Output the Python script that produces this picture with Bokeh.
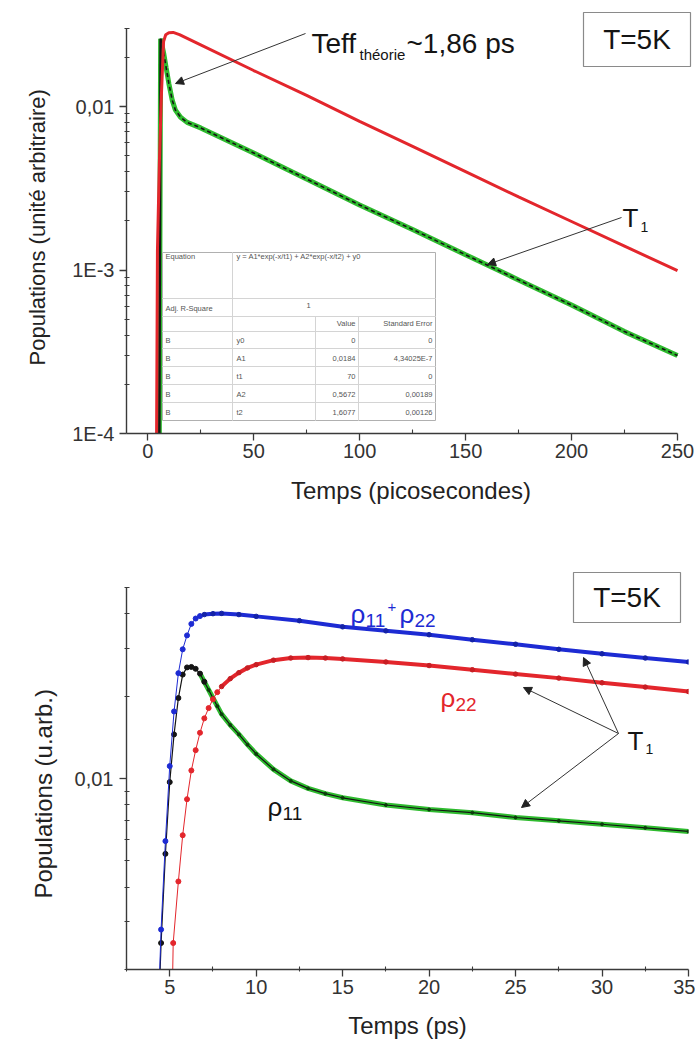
import math
from bokeh.plotting import figure
from bokeh.layouts import column
from bokeh.models import (Range1d, FixedTicker, CustomJSTickFormatter, Label,
                          Arrow, NormalHead, BoxAnnotation, Title)
from bokeh.embed import file_html
from bokeh.resources import INLINE

# ---------------- data ----------------
# top panel : populations vs time (ps), log scale
top_red_t = [4.2, 4.6, 5.5, 6.5, 7.5, 8.5, 10, 12, 15, 25, 50, 75, 100, 125, 150, 175, 200, 225, 250]
top_red_pop = [1.0e-4, 1.3e-3, 4.5e-3, 1.2e-2, 2.5e-2, 2.75e-2, 2.83e-2, 2.84e-2, 2.75e-2, 2.38e-2,
               1.66e-2, 1.17e-2, 8.1e-3, 5.7e-3, 4.0e-3, 2.8e-3, 1.98e-3, 1.4e-3, 9.9e-4]
top_green_t = [5.5, 5.8, 6.1, 7.6, 8.7, 10, 11.6, 13.1, 15.5, 18.6, 25, 50, 75, 100, 125, 150, 175, 200, 225, 250]
top_green_pop = [1.0e-4, 2.0e-3, 2.6e-2, 2.1e-2, 1.73e-2, 1.38e-2, 1.09e-2, 9.5e-3, 8.6e-3, 8.0e-3,
                 7.4e-3, 5.2e-3, 3.6e-3, 2.5e-3, 1.77e-3, 1.24e-3, 8.7e-4, 6.1e-4, 4.2e-4, 3.0e-4]

top_xticks = [0, 50, 100, 150, 200, 250]
top_xminor = [25, 75, 125, 175, 225]
top_yticks = [1e-4, 1e-3, 1e-2]
top_ylabels = ["1E-4", "1E-3", "0,01"]
top_yminor = [2e-4, 3e-4, 4e-4, 5e-4, 6e-4, 7e-4, 8e-4, 9e-4,
              2e-3, 3e-3, 4e-3, 5e-3, 6e-3, 7e-3, 8e-3, 9e-3, 2e-2, 3e-2]

# fit table (inset)
fit_equation = "y = A1*exp(-x/t1) + A2*exp(-x/t2) + y0"
fit_adj_r2 = "1"
fit_params = ["y0", "A1", "t1", "A2", "t2"]
fit_values = ["0", "0,0184", "70", "0,5672", "1,6077"]
fit_errors = ["0", "4,34025E-7", "0", "0,00189", "0,00126"]

# bottom panel
sum_t = [4.3, 4.5, 4.75, 5.0, 5.25, 5.5, 5.75, 6.0, 6.25, 6.5, 6.75, 7.0, 7.5, 8.0, 9.0, 10,
         12.5, 15, 17.5, 20, 22.5, 25, 27.5, 30, 32.5, 35]
sum_pop = [0.0012, 0.0028, 0.0059, 0.0111, 0.0176, 0.0243, 0.0297, 0.0334, 0.0368, 0.0385, 0.0393,
           0.0398, 0.0401, 0.0402, 0.0398, 0.0392, 0.0378, 0.0359, 0.0347, 0.0336, 0.0322, 0.0310,
           0.0297, 0.0286, 0.0276, 0.0267]
rho11_t = [4.3, 4.5, 4.75, 5.0, 5.25, 5.5, 5.75, 6.0, 6.25, 6.5, 6.75, 7.0, 7.25, 7.5, 7.75, 8.0,
           8.5, 9.0, 9.5, 10, 11, 12, 13, 14, 15, 17.5, 20, 22.5, 25, 27.5, 30, 32.5, 35]
rho11_pop = [0.0011, 0.0025, 0.0053, 0.0097, 0.0145, 0.0197, 0.0240, 0.0255, 0.0256, 0.0252, 0.0242,
             0.0226, 0.0211, 0.0197, 0.0184, 0.0172, 0.0157, 0.0145, 0.0133, 0.0123, 0.0108, 0.0098,
             0.0092, 0.0088, 0.0085, 0.0080, 0.0077, 0.0075, 0.0072, 0.0070, 0.0068, 0.0066, 0.0064]
rho22_t = [5.05, 5.2, 5.5, 5.75, 6.0, 6.25, 6.5, 6.75, 7.0, 7.25, 7.5, 7.75, 8.0, 8.5, 9.0, 9.5, 10,
           11, 12, 13, 14, 15, 17.5, 20, 22.5, 25, 27.5, 30, 32.5, 35]
rho22_pop = [0.0007, 0.0025, 0.0042, 0.0062, 0.0084, 0.0107, 0.0127, 0.0147, 0.0166, 0.0181, 0.0195,
             0.0207, 0.0217, 0.0232, 0.0244, 0.0254, 0.0261, 0.0271, 0.0276, 0.0277, 0.0276, 0.0274,
             0.0267, 0.0259, 0.0250, 0.0241, 0.0233, 0.0224, 0.0216, 0.0208]

bot_xticks = [5, 10, 15, 20, 25, 30, 35]
bot_xminor = [2.5, 7.5, 12.5, 17.5, 22.5, 27.5, 32.5]
bot_yticks = [1e-2]
bot_ylabels = ["0,01"]
bot_yminor = [2e-3, 3e-3, 4e-3, 5e-3, 6e-3, 7e-3, 8e-3, 9e-3, 2e-2, 3e-2, 4e-2, 5e-2]

# ---------------- style ----------------
FONT = "Liberation Sans"
RED = "#e3262c"
GREEN = "#2fbb2f"
BLUE = "#1d2bd3"
BLACK = "#141414"
AXC = "#3a3a3a"

# axis geometry (page pixels) and axis extents; used to place annotations
T_L, T_R, T_T, T_B = 126, 677, 28, 433
T_X0, T_X1, T_Y0, T_Y1 = -10, 250, 1e-4, 0.03
T_FR, T_FT = 695, 8            # frame extended (room for the T=5K box)
B_L, B_R, B_T, B_B = 121, 683, 587, 969
B_X0, B_X1, B_Y0, B_Y1 = 2.5, 35, 0.002, 0.05
B_FT = 567                     # frame extended upwards
B_CANVAS_TOP = 528


def tx(px):
    return T_X0 + (px - T_L) * (T_X1 - T_X0) / (T_R - T_L)


def ty(py):
    return 10 ** (math.log10(T_Y0) + (T_B - py) * math.log10(T_Y1 / T_Y0) / (T_B - T_T))


def bx(px):
    return B_X0 + (px - B_L) * (B_X1 - B_X0) / (B_R - B_L)


def by(py):
    return 10 ** (math.log10(B_Y0) + (B_B - py) * math.log10(B_Y1 / B_Y0) / (B_B - B_T))


def style_axes(p, xticks, xminor, yticks, ylabels, yminor, xlabel, ylabel,
               xstand, ylab_stand, xb, yb, ysize, yoffset, ystandoff):
    p.outline_line_color = None
    p.xgrid.visible = False
    p.ygrid.visible = False
    p.background_fill_color = "white"
    p.border_fill_color = "white"
    p.xaxis.ticker = FixedTicker(ticks=xticks, minor_ticks=xminor)
    p.yaxis.ticker = FixedTicker(ticks=yticks, minor_ticks=yminor)
    p.xaxis.bounds = xb
    p.yaxis.bounds = yb
    p.yaxis.formatter = CustomJSTickFormatter(args=dict(vals=yticks, labs=ylabels), code="""
        for (let i = 0; i < vals.length; i++) {
            if (Math.abs(tick - vals[i]) <= 1e-6 * Math.abs(vals[i])) { return labs[i]; }
        }
        return "";
    """)
    for ax in (p.xaxis[0], p.yaxis[0]):
        ax.axis_line_color = AXC
        ax.axis_line_width = 1.4
        ax.major_tick_line_color = AXC
        ax.minor_tick_line_color = AXC
        ax.major_tick_line_width = 1.3
        ax.minor_tick_line_width = 1.1
        ax.major_tick_in = 0
        ax.major_tick_out = 7
        ax.minor_tick_in = 3
        ax.minor_tick_out = 2
        ax.major_label_text_font = FONT
        ax.major_label_text_font_size = "20px"
        ax.major_label_text_color = "#333333"
        ax.axis_label_text_font = FONT
        ax.axis_label_text_font_style = "normal"
        ax.axis_label_text_color = "#222222"
    p.xaxis.axis_label = xlabel
    p.xaxis.axis_label_text_font_size = "24px"
    p.xaxis.major_label_standoff = 3
    p.xaxis.axis_label_standoff = xstand
    p.yaxis.major_label_standoff = ylab_stand
    # y title placed as a side title so that it can sit where the reference has it
    p.add_layout(Title(text=ylabel, align="left", offset=yoffset, standoff=ystandoff,
                       text_font=FONT, text_font_size=ysize, text_font_style="normal",
                       text_color="#222222"), "left")


def add_text(p, x, y, text, size, color=BLACK, align="left", baseline="alphabetic", **kw):
    p.add_layout(Label(x=x, y=y, text=text, text_font=FONT, text_font_size=f"{size}px",
                       text_color=color, text_align=align, text_baseline=baseline, **kw))


def add_arrow(p, x0, y0, x1, y1):
    p.add_layout(Arrow(end=NormalHead(size=8, fill_color="#222222", line_color="#222222", line_width=1),
                       x_start=x0, y_start=y0, x_end=x1, y_end=y1,
                       line_color="#333333", line_width=1))


def add_box(p, l, t, r, b, fill=False, lc="#c4c4c4", lw=1.0):
    p.add_layout(BoxAnnotation(left=l, right=r, top=t, bottom=b,
                               fill_color="white", fill_alpha=1.0 if fill else 0.0,
                               line_color=lc, line_width=lw, line_alpha=1.0))


# ---------------- top figure ----------------
p1 = figure(frame_width=T_FR - T_L, frame_height=T_B - T_FT,
            x_range=Range1d(T_X0, tx(T_FR)), y_range=Range1d(T_Y0, ty(T_FT)), y_axis_type="log",
            output_backend="svg", toolbar_location=None,
            min_border_left=T_L, min_border_right=0, min_border_top=T_FT, min_border_bottom=95)
style_axes(p1, top_xticks, top_xminor, top_yticks, top_ylabels, top_yminor,
           "Temps (picosecondes)", "Populations (unité arbitraire)",
           xstand=16, ylab_stand=5, xb=(T_X0, T_X1), yb=(T_Y0, T_Y1),
           ysize="22px", yoffset=T_B - 365, ystandoff=40)
p1.xaxis.minor_tick_in = 4
p1.xaxis.minor_tick_out = 0

p1.line(top_green_t, top_green_pop, line_color=GREEN, line_width=5)
p1.line(top_green_t[:3], top_green_pop[:3], line_color=BLACK, line_width=2.5)
p1.line(top_green_t[2:], top_green_pop[2:], line_color=BLACK, line_width=1.6, line_dash="4 3")
p1.line(top_red_t, top_red_pop, line_color=RED, line_width=3)

# inset fit table
def tbox(l, t, r, b, fill=False, lc="#c4c4c4"):
    add_box(p1, tx(l), ty(t), tx(r), ty(b), fill=fill, lc=lc)

tbox(162, 252, 435, 420, fill=True, lc="#b0b0b0")
for yy in [298, 316, 331, 348, 366, 384, 402]:
    tbox(162, yy, 435, yy, lc="#d4d4d4")
tbox(232, 252, 232, 420, lc="#d4d4d4")
tbox(315, 316, 315, 420, lc="#d4d4d4")
tbox(358, 316, 358, 420, lc="#d4d4d4")

TC = "#555555"
TS = 7.5
add_text(p1, tx(165), ty(256), "Equation", TS, TC, baseline="middle")
add_text(p1, tx(236), ty(256), fit_equation, TS, TC, baseline="middle")
add_text(p1, tx(165), ty(308), "Adj. R-Square", TS, TC, baseline="middle")
add_text(p1, tx(308), ty(305), fit_adj_r2, TS, TC, align="center", baseline="middle")
add_text(p1, tx(355), ty(323), "Value", TS, TC, align="right", baseline="middle")
add_text(p1, tx(432), ty(323), "Standard Error", TS, TC, align="right", baseline="middle")
for i, (nm, v, e) in enumerate(zip(fit_params, fit_values, fit_errors)):
    yy = 339.5 + 18 * i
    add_text(p1, tx(165), ty(yy), "B", TS, TC, baseline="middle")
    add_text(p1, tx(236), ty(yy), nm, TS, TC, baseline="middle")
    add_text(p1, tx(355), ty(yy), v, TS, TC, align="right", baseline="middle")
    add_text(p1, tx(432), ty(yy), e, TS, TC, align="right", baseline="middle")

# annotations top
add_text(p1, tx(311), ty(43), "Teff", 28)
add_text(p1, tx(359), ty(54), "théorie", 15)
add_text(p1, tx(406), ty(43), "~1,86 ps", 28)
add_arrow(p1, tx(305), ty(33), tx(175), ty(83))
add_text(p1, tx(622), ty(217), "T", 26)
add_text(p1, tx(640), ty(226), "1", 14)
add_arrow(p1, tx(621), ty(217), tx(487), ty(264))
add_box(p1, tx(583), ty(12), tx(690), ty(66), fill=True, lc="#8a8a8a", lw=1.2)
add_text(p1, tx(636.5), ty(39), "T=5K", 28, align="center", baseline="middle")

# ---------------- bottom figure ----------------
p2 = figure(frame_width=B_R - B_L, frame_height=B_B - B_FT,
            x_range=Range1d(B_X0, B_X1), y_range=Range1d(B_Y0, by(B_FT)), y_axis_type="log",
            output_backend="svg", toolbar_location=None,
            min_border_left=B_L, min_border_right=12, min_border_top=B_FT - B_CANVAS_TOP,
            min_border_bottom=70)
style_axes(p2, bot_xticks, bot_xminor, bot_yticks, bot_ylabels, bot_yminor,
           "Temps (ps)", "Populations (u.arb.)",
           xstand=15, ylab_stand=6, xb=(B_X0, B_X1), yb=(B_Y0, B_Y1),
           ysize="24px", yoffset=B_B - 898, ystandoff=30)
p2.xaxis.minor_tick_in = 3
p2.xaxis.minor_tick_out = 2

# rho11 : black points, green band
g0 = rho11_t.index(6.75)
p2.line(rho11_t[g0:], rho11_pop[g0:], line_color=GREEN, line_width=5)
p2.line(rho11_t, rho11_pop, line_color=BLACK, line_width=1.2)
p2.scatter(rho11_t[:g0 + 2], rho11_pop[:g0 + 2], size=5, color=BLACK)
p2.scatter(rho11_t[g0 + 2:], rho11_pop[g0 + 2:], size=3, color="#0c3d0c")

# rho22 : red
r0 = rho22_t.index(8.0)
p2.line(rho22_t, rho22_pop, line_color=RED, line_width=1)
p2.line(rho22_t[r0:], rho22_pop[r0:], line_color=RED, line_width=4)
p2.scatter(rho22_t[:r0], rho22_pop[:r0], size=5, color=RED)
p2.scatter(rho22_t[r0:], rho22_pop[r0:], size=4.5, color="#c81e24")

# sum : blue
s0 = sum_t.index(7.0)
p2.line(sum_t, sum_pop, line_color=BLUE, line_width=1)
p2.line(sum_t[s0:], sum_pop[s0:], line_color=BLUE, line_width=4)
p2.scatter(sum_t[:s0], sum_pop[:s0], size=5, color=BLUE)
p2.scatter(sum_t[s0:], sum_pop[s0:], size=4.5, color="#1422a8")

# annotations bottom
add_text(p2, bx(345), by(613), "ρ", 26, BLUE)
add_text(p2, bx(360), by(620), "11", 19, BLUE)
add_text(p2, bx(382), by(606), "+", 15, BLUE)
add_text(p2, bx(394), by(613), "ρ", 26, BLUE)
add_text(p2, bx(409), by(620), "22", 19, BLUE)

add_text(p2, bx(435), by(697), "ρ", 26, RED)
add_text(p2, bx(450), by(704), "22", 19, RED)

add_text(p2, bx(262), by(806), "ρ", 26, BLACK)
add_text(p2, bx(277), by(813), "11", 19, BLACK)

add_text(p2, bx(622), by(740), "T", 26)
add_text(p2, bx(640), by(748), "1", 14)
add_arrow(p2, bx(613), by(733), bx(578), by(657))
add_arrow(p2, bx(613), by(733), bx(518), by(687))
add_arrow(p2, bx(613), by(733), bx(516), by(807))
add_box(p2, bx(568), by(572), bx(675), by(622), fill=True, lc="#8a8a8a", lw=1.2)
add_text(p2, bx(621.5), by(597), "T=5K", 28, align="center", baseline="middle")

layout = column(p1, p2)
with open("out.html", "w") as f:
    f.write(file_html(layout, INLINE))
